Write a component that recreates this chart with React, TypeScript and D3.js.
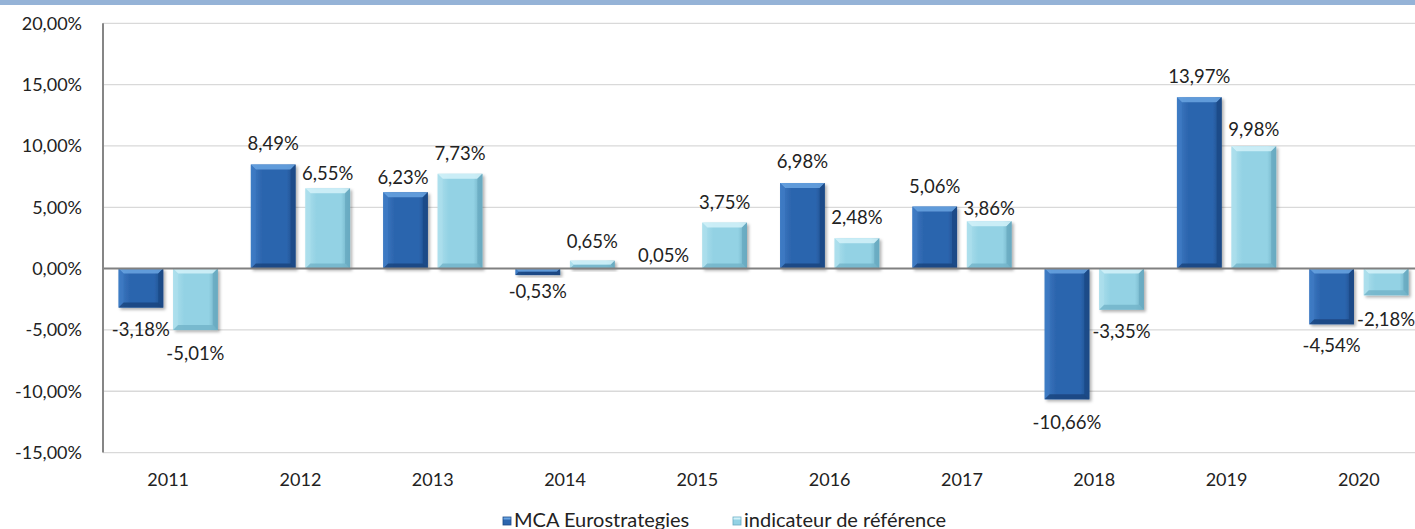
import { useEffect, useRef } from "react";
import * as d3 from "d3";

// chart data
const years = ["2011", "2012", "2013", "2014", "2015", "2016", "2017", "2018", "2019", "2020"];
const seriesNames = ["MCA Eurostrategies", "indicateur de référence"];
const mcaValues = [-3.18, 8.49, 6.23, -0.53, 0.05, 6.98, 5.06, -10.66, 13.97, -4.54];
const refValues = [-5.01, 6.55, 7.73, 0.65, 3.75, 2.48, 3.86, -3.35, 9.98, -2.18];
const yTicks = [-15, -10, -5, 0, 5, 10, 15, 20];

// small label nudges (px) to match the hand-placed labels of the original
const mcaLabelNudge = [0, 0, 6, 5.5, 8, -1, 0, -2, 0, 0];
const mcaLabelShiftX = [0, 0, -2.5, 0, -6.5, 0, 0, 0, 0, 0];
const refLabelNudge = [-1.5, 5.5, 0, 1, 0, 0, 7.5, 0, 3.5, -3];
const refLabelShiftX = [0, 0, 0, 0, 0, 0, 0, 0, 0, 0];

const WIDTH = 1415;
const HEIGHT = 529;
const FONT = "Lato, 'Open Sans', sans-serif";

const fmt = (v: number) => v.toFixed(2).replace(".", ",") + "%";

const palettes = [
  { main: "#2C65AE", top: "#6AA5E2", left: "#3F7CC4", right: "#1C4A86", bottom: "#1A447C" },
  { main: "#93D2E4", top: "#D4F2F9", left: "#AEE0ED", right: "#69AAC0", bottom: "#72B3C8" },
];

export default function App() {
  const svgRef = useRef<SVGSVGElement>(null);

  useEffect(() => {
    document.body.style.margin = "0";
    if (!svgRef.current) return;
    const svg = d3.select(svgRef.current);
    svg.selectAll("*").remove();

    const x0 = 102;
    const x1 = 1425;
    const yTop = 23.3;
    const yBottom = 452.6;

    const x = d3.scaleBand<string>().domain(years).range([x0, x1]).paddingInner(0.25).paddingOuter(0.125);
    const xs = d3.scaleBand<string>().domain(seriesNames).range([0, x.bandwidth()]).paddingInner(0.18);
    const y = d3.scaleLinear().domain([-15, 20]).range([yBottom, yTop]);

    const defs = svg.append("defs");
    const shadow = defs
      .append("filter")
      .attr("id", "barShadow")
      .attr("x", "-20%")
      .attr("y", "-20%")
      .attr("width", "150%")
      .attr("height", "150%");
    shadow
      .append("feDropShadow")
      .attr("dx", 2)
      .attr("dy", 2)
      .attr("stdDeviation", 1.6)
      .attr("flood-color", "#000")
      .attr("flood-opacity", 0.3);

    palettes.forEach((p, i) => {
      const g = defs
        .append("linearGradient")
        .attr("id", `barGrad${i}`)
        .attr("x1", "0")
        .attr("x2", "1")
        .attr("y1", "0")
        .attr("y2", "0");
      g.append("stop").attr("offset", "0%").attr("stop-color", p.left);
      g.append("stop").attr("offset", "25%").attr("stop-color", p.main);
      g.append("stop").attr("offset", "80%").attr("stop-color", p.main);
      g.append("stop").attr("offset", "100%").attr("stop-color", p.right);
    });

    // top band
    svg.append("rect").attr("x", 0).attr("y", 0).attr("width", WIDTH).attr("height", 5).attr("fill", "#95B3D7");

    // gridlines
    svg
      .append("g")
      .selectAll("line")
      .data(yTicks.filter((t) => t !== 0))
      .join("line")
      .attr("x1", x0 + 1)
      .attr("x2", WIDTH)
      .attr("y1", (d) => y(d))
      .attr("y2", (d) => y(d))
      .attr("stroke", "#D9D9D9")
      .attr("stroke-width", 1.3);

    // y tick labels
    svg
      .append("g")
      .selectAll("text")
      .data(yTicks)
      .join("text")
      .attr("x", 82)
      .attr("y", (d) => y(d))
      .attr("dy", "0.35em")
      .attr("text-anchor", "end")
      .attr("font-family", FONT)
      .attr("font-size", 18)
      .attr("fill", "#222")
      .text((d) => fmt(d));

    // x category labels
    svg
      .append("g")
      .selectAll("text")
      .data(years)
      .join("text")
      .attr("x", (d) => (x(d) as number) + x.bandwidth() / 2)
      .attr("y", 486)
      .attr("text-anchor", "middle")
      .attr("font-family", FONT)
      .attr("font-size", 18)
      .attr("fill", "#222")
      .text((d) => d);

    // bars
    const series = [mcaValues, refValues];
    const nudges = [mcaLabelNudge, refLabelNudge];
    const shiftsX = [mcaLabelShiftX, refLabelShiftX];
    const barsG = svg.append("g");
    const labelsG = svg.append("g");

    series.forEach((values, si) => {
      const p = palettes[si];
      values.forEach((v, i) => {
        const bx = (x(years[i]) as number) + (xs(seriesNames[si]) as number);
        const bw = xs.bandwidth();
        const top = Math.min(y(v), y(0));
        const bot = Math.max(y(v), y(0));
        const h = bot - top;
        const b = Math.min(5, h / 2, bw / 2);

        const g = barsG.append("g").attr("filter", "url(#barShadow)");
        g.append("rect")
          .attr("x", bx)
          .attr("y", top)
          .attr("width", bw)
          .attr("height", Math.max(h, 0.6))
          .attr("fill", `url(#barGrad${si})`);
        if (b > 0.5) {
          // bevel: top, left, right, bottom
          g.append("path")
            .attr("d", `M${bx},${top}L${bx + bw},${top}L${bx + bw - b},${top + b}L${bx + b},${top + b}Z`)
            .attr("fill", p.top)
            .attr("opacity", 0.85);
          g.append("path")
            .attr("d", `M${bx},${top}L${bx + b},${top + b}L${bx + b},${bot - b}L${bx},${bot}Z`)
            .attr("fill", p.left)
            .attr("opacity", 0.6);
          g.append("path")
            .attr("d", `M${bx + bw},${top}L${bx + bw},${bot}L${bx + bw - b},${bot - b}L${bx + bw - b},${top + b}Z`)
            .attr("fill", p.right)
            .attr("opacity", 0.8);
          g.append("path")
            .attr("d", `M${bx},${bot}L${bx + b},${bot - b}L${bx + bw - b},${bot - b}L${bx + bw},${bot}Z`)
            .attr("fill", p.bottom)
            .attr("opacity", 0.8);
        }

        const cx = bx + bw / 2 + shiftsX[si][i];
        const ly = v >= 0 ? y(v) - 14 + nudges[si][i] : y(v) + 28 - nudges[si][i];
        labelsG
          .append("text")
          .attr("x", cx)
          .attr("y", ly)
          .attr("text-anchor", "middle")
          .attr("font-family", FONT)
          .attr("font-size", 18.5)
          .attr("fill", "#222")
          .text(fmt(v));
      });
    });

    // axes lines
    svg
      .append("line")
      .attr("x1", x0 + 1)
      .attr("x2", WIDTH)
      .attr("y1", y(0))
      .attr("y2", y(0))
      .attr("stroke", "#808080")
      .attr("stroke-width", 2);
    svg
      .append("line")
      .attr("x1", x0 + 1)
      .attr("x2", x0 + 1)
      .attr("y1", yTop)
      .attr("y2", yBottom)
      .attr("stroke", "#868686")
      .attr("stroke-width", 2);

    // legend
    const legend = svg.append("g");
    const legendX = [503, 733];
    seriesNames.forEach((name, si) => {
      const p = palettes[si];
      legend
        .append("rect")
        .attr("x", legendX[si])
        .attr("y", 517)
        .attr("width", 8)
        .attr("height", 8)
        .attr("fill", p.main)
        .attr("stroke", p.right)
        .attr("stroke-width", 0.8);
      legend
        .append("rect")
        .attr("x", legendX[si] + 0.5)
        .attr("y", 517.5)
        .attr("width", 7)
        .attr("height", 2)
        .attr("fill", p.top);
      legend
        .append("text")
        .attr("x", legendX[si] + 11)
        .attr("y", 526.5)
        .attr("font-family", FONT)
        .attr("font-size", 20)
        .attr("fill", "#222")
        .text(name);
    });
  }, []);

  return <svg ref={svgRef} width={WIDTH} height={HEIGHT} style={{ display: "block" }}></svg>;
}
